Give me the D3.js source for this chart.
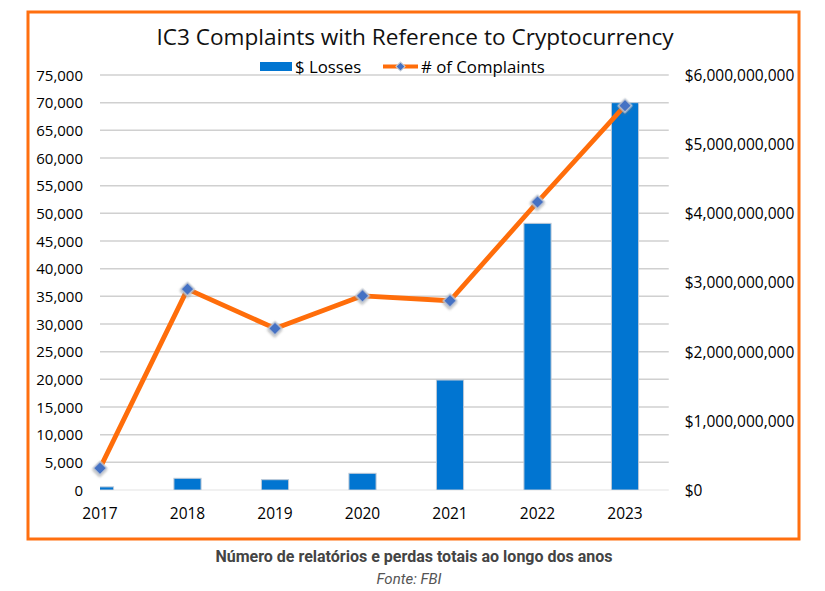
<!DOCTYPE html>
<html>
<head>
<meta charset="utf-8">
<script src="https://cdn.jsdelivr.net/npm/d3@7"></script>
<style>
  body { margin: 0; background: #fff; }
  svg text { font-family: "Open Sans", sans-serif; fill: #000; }
  .caption { font-family: Roboto, sans-serif !important; }
</style>
</head>
<body>
<svg id="chart" width="825" height="591"></svg>
<script>
// Data
const years = ["2017", "2018", "2019", "2020", "2021", "2022", "2023"];
const complaints = [3950, 36300, 29200, 35100, 34200, 52050, 69450];
const losses = [45e6, 169e6, 149e6, 241e6, 1.59e9, 3.855e9, 5.6e9];
const leftTicks = d3.range(0, 75001, 5000);
const rightTicks = d3.range(0, 6e9 + 1, 1e9);

const svg = d3.select("#chart");

// Chart dimensions (plot area)
const plotLeft = 100, plotRight = 668.75, plotTop = 75, plotBottom = 490;
const step = (plotRight - plotLeft) / 6.5;

// Scales
const xScale = d3.scaleBand()
  .domain(years)
  .range([plotLeft - step / 2, plotRight])
  .paddingInner(0.69)
  .paddingOuter(0.345);
const xCenter = d => xScale(d) + xScale.bandwidth() / 2;

const yLeft = d3.scaleLinear().domain([0, 75000]).range([plotBottom, plotTop]);
const yRight = d3.scaleLinear().domain([0, 6e9]).range([plotBottom, plotTop]);

// Marker shadow
const shadow = svg.append("defs").append("filter")
  .attr("id", "shadow")
  .attr("x", "-50%").attr("y", "-50%")
  .attr("width", "200%").attr("height", "200%");
shadow.append("feDropShadow")
  .attr("dx", 0.8).attr("dy", 1.2)
  .attr("stdDeviation", 1)
  .attr("flood-color", "#777")
  .attr("flood-opacity", 0.6);

// Orange frame
svg.append("rect")
  .attr("x", 28).attr("y", 12)
  .attr("width", 771).attr("height", 527)
  .attr("fill", "#fff")
  .attr("stroke", "#FF6F0F")
  .attr("stroke-width", 3);

// Title
svg.append("text")
  .attr("x", 415).attr("y", 45)
  .attr("text-anchor", "middle")
  .style("font-size", "22.6px")
  .style("fill", "#111")
  .text("IC3 Complaints with Reference to Cryptocurrency");

// Gridlines
svg.append("g")
  .selectAll("line")
  .data(leftTicks)
  .enter()
  .append("line")
  .attr("x1", plotLeft).attr("x2", plotRight)
  .attr("y1", d => yLeft(d)).attr("y2", d => yLeft(d))
  .attr("stroke", d => d === 0 ? "#ececec" : "#d0d0d0")
  .attr("stroke-width", 1.5);

// Left axis
const leftAxis = svg.append("g")
  .attr("transform", `translate(${plotLeft - 17},0)`)
  .call(d3.axisLeft(yLeft).tickValues(leftTicks).tickFormat(d3.format(",")).tickSize(0).tickPadding(0));
leftAxis.select(".domain").remove();
leftAxis.selectAll("text")
  .style("font-size", "15px")
  .attr("dy", "0.35em");

// Right axis
const rightAxis = svg.append("g")
  .attr("transform", `translate(${plotRight + 16},0)`)
  .call(d3.axisRight(yRight).tickValues(rightTicks).tickFormat(d => "$" + d3.format(",")(d)).tickSize(0).tickPadding(0));
rightAxis.select(".domain").remove();
rightAxis.selectAll("text")
  .style("font-size", "15.5px")
  .attr("dy", "0.35em");

// X axis labels
const xAxis = svg.append("g")
  .attr("transform", `translate(0,${plotBottom + 15})`)
  .call(d3.axisBottom(xScale).tickSize(0).tickPadding(0));
xAxis.select(".domain").remove();
xAxis.selectAll("text")
  .style("font-size", "15.5px")
  .attr("dy", "0.9em");

// Bars (clipped at the plot's left edge)
svg.append("clipPath").attr("id", "plot-clip")
  .append("rect")
  .attr("x", plotLeft).attr("y", 0)
  .attr("width", plotRight - plotLeft).attr("height", plotBottom);

svg.append("g")
  .attr("clip-path", "url(#plot-clip)")
  .selectAll("rect")
  .data(years)
  .enter()
  .append("rect")
  .attr("x", d => xScale(d))
  .attr("y", (d, i) => yRight(losses[i]))
  .attr("width", xScale.bandwidth())
  .attr("height", (d, i) => plotBottom - yRight(losses[i]))
  .attr("fill", "#0175D1")
  .attr("stroke", "#bcc8d6")
  .attr("stroke-width", 1);

// Complaints line
const line = d3.line()
  .x(d => xCenter(d))
  .y((d, i) => yLeft(complaints[i]));

svg.append("path")
  .datum(years)
  .attr("d", line)
  .attr("fill", "none")
  .attr("stroke", "#FF6D0A")
  .attr("stroke-width", 4.8)
  .attr("stroke-linejoin", "round");

// Diamond markers
const diamond = d3.symbol().type(d3.symbolSquare).size(92);
svg.append("g")
  .selectAll("path")
  .data(years)
  .enter()
  .append("path")
  .attr("d", diamond)
  .attr("transform", (d, i) => `translate(${xCenter(d)},${yLeft(complaints[i])}) rotate(45)`)
  .attr("fill", "#4472C4")
  .attr("stroke", "#c9cfd8")
  .attr("stroke-width", 1.2)
  .attr("filter", "url(#shadow)");

// Legend
const legend = svg.append("g");
legend.append("rect")
  .attr("x", 260).attr("y", 62)
  .attr("width", 32).attr("height", 9)
  .attr("fill", "#0175D1");
legend.append("text")
  .attr("x", 295).attr("y", 73)
  .style("font-size", "16.8px")
  .text("$ Losses");
legend.append("line")
  .attr("x1", 383).attr("x2", 418)
  .attr("y1", 66.5).attr("y2", 66.5)
  .attr("stroke", "#FF6D0A")
  .attr("stroke-width", 4);
legend.append("path")
  .attr("d", d3.symbol().type(d3.symbolSquare).size(42))
  .attr("transform", "translate(400.5,66.5) rotate(45)")
  .attr("fill", "#4472C4")
  .attr("stroke", "#c9cfd8");
legend.append("text")
  .attr("x", 421).attr("y", 73)
  .style("font-size", "16.8px")
  .text("# of Complaints");

// Caption below the frame
svg.append("text")
  .attr("class", "caption")
  .attr("x", 414).attr("y", 562)
  .attr("text-anchor", "middle")
  .style("font-size", "16px")
  .style("font-weight", "bold")
  .style("fill", "#444")
  .text("Número de relatórios e perdas totais ao longo dos anos");

svg.append("text")
  .attr("class", "caption")
  .attr("x", 409).attr("y", 584)
  .attr("text-anchor", "middle")
  .style("font-size", "15px")
  .style("font-style", "italic")
  .style("fill", "#555")
  .text("Fonte: FBI");
</script>
</body>
</html>
